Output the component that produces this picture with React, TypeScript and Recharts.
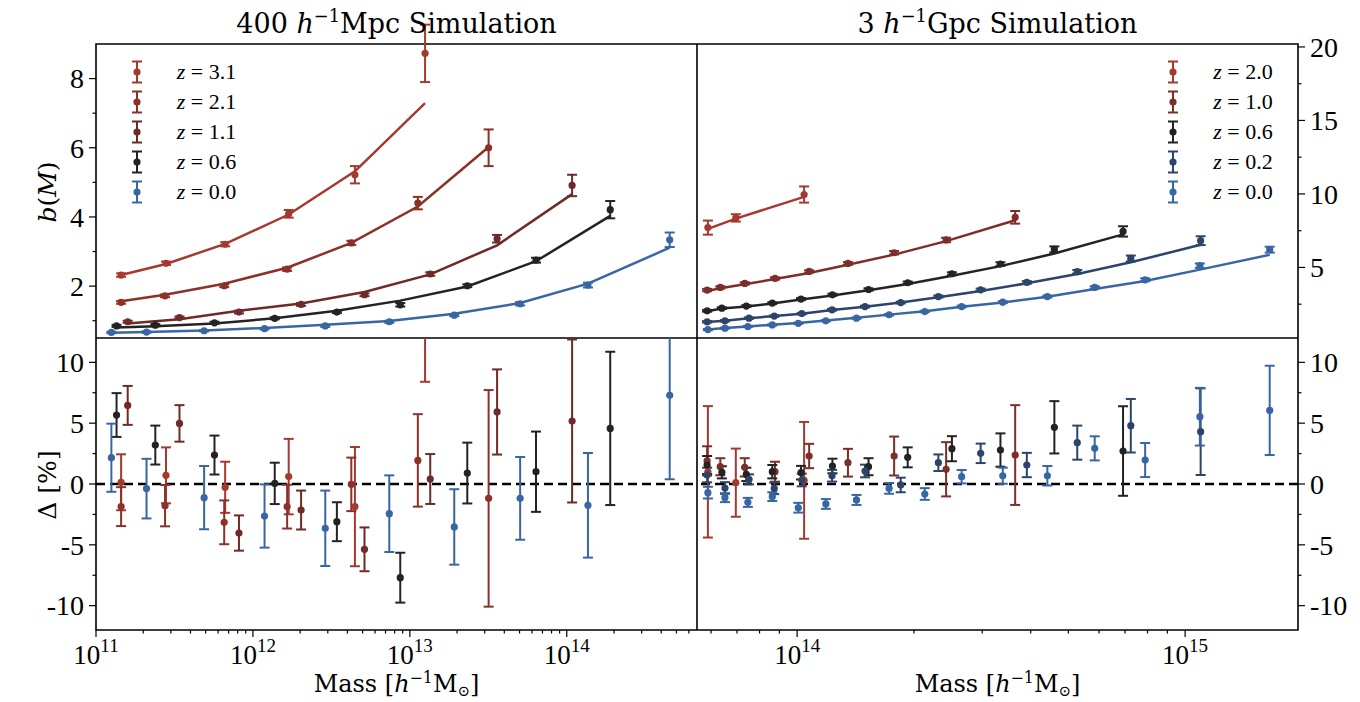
import React from 'react';
import {
  ComposedChart,
  XAxis,
  YAxis,
  Scatter,
  Line,
  ErrorBar,
  ReferenceLine,
  ReferenceArea,
  Legend,
} from 'recharts';

const FONT = '"Liberation Serif", "DejaVu Serif", serif';
const TITLE_FONT = '"DejaVu Serif", "Liberation Serif", serif';

// ---------------- colours ----------------
const C_RED = '#a5392f';
const C_RED2 = '#8c3028';
const C_BROWN = '#6d2a26';
const C_BLACK = '#232323';
const C_BLUE = '#3866a3';
const C_DRED = '#7d2e28';
const C_NAVY = '#2c4468';

// ---------------- 400 h^-1 Mpc simulation ----------------
const z31LogM = [11.160, 11.446, 11.823, 12.228, 12.650, 13.097];
const z31Bias = [2.32, 2.66, 3.21, 4.09, 5.22, 8.73];
const z31BiasErr = [0.05, 0.05, 0.06, 0.11, 0.25, 0.83];
const z31Model = [2.32, 2.64, 3.22, 4.07, 5.32, 7.29];
const z31Delta = [0.14, 0.71, -0.27, 0.61, -1.86, 19.8];
const z31DeltaErr = [2.3, 2.3, 2.1, 3.1, 4.9, 11.4];

const z21LogM = [11.160, 11.440, 11.817, 12.218, 12.627, 13.051, 13.502];
const z21Bias = [1.53, 1.72, 2.01, 2.49, 3.25, 4.40, 6.00];
const z21BiasErr = [0.04, 0.04, 0.04, 0.05, 0.06, 0.18, 0.53];
const z21Model = [1.56, 1.75, 2.07, 2.53, 3.25, 4.30, 6.02];
const z21Delta = [-1.86, -1.78, -3.15, -1.86, -0.03, 1.94, -1.18];
const z21DeltaErr = [1.6, 1.7, 1.8, 1.8, 2.2, 3.8, 8.9];

const z11LogM = [11.202, 11.532, 11.911, 12.307, 12.711, 13.130, 13.556, 14.034];
const z11Bias = [0.97, 1.09, 1.25, 1.47, 1.75, 2.35, 3.37, 4.91];
const z11BiasErr = [0.03, 0.03, 0.04, 0.04, 0.04, 0.05, 0.11, 0.31];
const z11Model = [0.92, 1.04, 1.29, 1.50, 1.83, 2.34, 3.18, 4.66];
const z11Delta = [6.46, 4.98, -4.03, -2.14, -5.37, 0.41, 5.92, 5.18];
const z11DeltaErr = [1.6, 1.5, 1.45, 1.6, 1.8, 2.05, 3.5, 6.7];

const z06LogM = [11.131, 11.378, 11.755, 12.139, 12.535, 12.939, 13.366, 13.804, 14.277];
const z06Bias = [0.85, 0.87, 0.94, 1.07, 1.25, 1.46, 2.01, 2.75, 4.21];
const z06BiasErr = [0.03, 0.03, 0.03, 0.03, 0.03, 0.05, 0.04, 0.07, 0.25];
const z06Model = [0.80, 0.84, 0.92, 1.07, 1.29, 1.58, 1.99, 2.72, 4.03];
const z06Delta = [5.67, 3.20, 2.38, 0.05, -3.10, -7.70, 0.90, 1.01, 4.57];
const z06DeltaErr = [1.8, 1.6, 1.6, 1.7, 1.6, 2.05, 2.5, 3.3, 6.3];

const z00LogM = [11.098, 11.322, 11.689, 12.074, 12.461, 12.869, 13.283, 13.703, 14.135, 14.656];
const z00Bias = [0.66, 0.67, 0.71, 0.77, 0.85, 0.97, 1.16, 1.49, 2.03, 3.34];
const z00BiasErr = [0.02, 0.02, 0.02, 0.02, 0.03, 0.03, 0.03, 0.05, 0.07, 0.21];
const z00Model = [0.65, 0.67, 0.72, 0.79, 0.88, 0.99, 1.20, 1.51, 2.07, 3.11];
const z00Delta = [2.16, -0.38, -1.12, -2.63, -3.64, -2.44, -3.53, -1.18, -1.75, 7.29];
const z00DeltaErr = [2.8, 2.45, 2.6, 2.6, 3.1, 3.15, 3.1, 3.4, 4.3, 6.9];

// ---------------- 3 h^-1 Gpc simulation ----------------
const g20LogM = [13.770, 13.842, 14.018];
const g20Bias = [7.71, 8.37, 9.96];
const g20BiasErr = [0.48, 0.25, 0.55];
const g20Model = [7.62, 8.32, 9.80];
const g20Delta = [1.0, 0.11, 0.3];
const g20DeltaErr = [5.4, 2.8, 4.8];

const g10LogM = [13.768, 13.802, 13.865, 13.943, 14.031, 14.131, 14.250, 14.384, 14.562];
const g10Bias = [3.46, 3.64, 3.91, 4.25, 4.73, 5.27, 6.00, 6.87, 8.41];
const g10BiasErr = [0.08, 0.08, 0.08, 0.08, 0.08, 0.09, 0.12, 0.15, 0.43];
const g10Model = [3.40, 3.59, 3.86, 4.21, 4.62, 5.18, 5.87, 6.79, 8.21];
const g10Delta = [1.9, 1.42, 1.37, 1.01, 2.30, 1.75, 2.30, 1.21, 2.38];
const g10DeltaErr = [1.2, 0.7, 0.75, 0.82, 1.0, 1.14, 1.6, 2.23, 4.1];

const g06LogM = [13.768, 13.806, 13.869, 13.936, 14.010, 14.091, 14.184, 14.285, 14.399, 14.524, 14.663, 14.840];
const g06Bias = [2.05, 2.23, 2.37, 2.57, 2.85, 3.14, 3.50, 3.96, 4.57, 5.23, 6.23, 7.45];
const g06BiasErr = [0.06, 0.06, 0.06, 0.06, 0.07, 0.07, 0.08, 0.08, 0.10, 0.12, 0.20, 0.35];
const g06Model = [2.02, 2.21, 2.35, 2.54, 2.82, 3.09, 3.45, 3.87, 4.44, 5.09, 5.95, 7.25];
const g06Delta = [1.56, 0.96, 0.79, 1.01, 0.93, 1.48, 1.42, 2.19, 2.90, 2.79, 4.66, 2.71];
const g06DeltaErr = [0.74, 0.5, 0.55, 0.55, 0.56, 0.6, 0.7, 0.82, 1.03, 1.37, 2.15, 3.68];

const g02LogM = [13.768, 13.814, 13.876, 13.941, 14.012, 14.090, 14.175, 14.267, 14.364, 14.473, 14.592, 14.722, 14.860, 15.040];
const g02Bias = [1.30, 1.37, 1.55, 1.69, 1.86, 2.12, 2.34, 2.61, 3.02, 3.48, 3.98, 4.71, 5.61, 6.82];
const g02BiasErr = [0.05, 0.05, 0.05, 0.05, 0.05, 0.06, 0.06, 0.06, 0.07, 0.08, 0.09, 0.12, 0.2, 0.3];
const g02Model = [1.29, 1.37, 1.54, 1.70, 1.85, 2.11, 2.32, 2.61, 2.97, 3.39, 3.92, 4.56, 5.35, 6.54];
const g02Delta = [0.74, -0.33, 0.38, -0.36, 0.33, 0.68, 1.07, -0.08, 1.75, 2.52, 1.56, 3.40, 4.79, 4.30];
const g02DeltaErr = [0.6, 0.48, 0.41, 0.47, 0.52, 0.48, 0.52, 0.6, 0.68, 0.8, 1.0, 1.4, 2.2, 3.56];

const g00LogM = [13.770, 13.814, 13.873, 13.936, 14.003, 14.074, 14.153, 14.237, 14.329, 14.424, 14.530, 14.645, 14.767, 14.897, 15.038, 15.218];
const g00Bias = [0.77, 0.87, 0.98, 1.09, 1.20, 1.37, 1.55, 1.78, 2.00, 2.34, 2.64, 3.02, 3.64, 4.16, 5.12, 6.21];
const g00BiasErr = [0.04, 0.04, 0.04, 0.04, 0.04, 0.04, 0.04, 0.05, 0.05, 0.06, 0.06, 0.07, 0.08, 0.1, 0.15, 0.2];
const g00Model = [0.78, 0.88, 0.99, 1.10, 1.22, 1.39, 1.57, 1.79, 2.02, 2.33, 2.62, 3.00, 3.54, 4.08, 4.85, 5.86];
const g00Delta = [-0.71, -1.12, -1.51, -1.04, -1.95, -1.64, -1.31, -0.36, -0.82, 0.60, 0.68, 0.68, 2.93, 1.97, 5.53, 6.05];
const g00DeltaErr = [0.48, 0.37, 0.37, 0.36, 0.4, 0.4, 0.41, 0.44, 0.48, 0.55, 0.66, 0.8, 0.99, 1.4, 2.37, 3.67];

// ---------------- axes: ticks ----------------
const smallXDomain: [number, number] = [1e11, 6.76e14];
const smallXMajor = [1e11, 1e12, 1e13, 1e14];
const smallXMinor = [
  2e11, 3e11, 4e11, 5e11, 6e11, 7e11, 8e11, 9e11,
  2e12, 3e12, 4e12, 5e12, 6e12, 7e12, 8e12, 9e12,
  2e13, 3e13, 4e13, 5e13, 6e13, 7e13, 8e13, 9e13,
  2e14, 3e14, 4e14, 5e14, 6e14,
];
const bigXDomain: [number, number] = [5.52e13, 1.954e15];
const bigXMajor = [1e14, 1e15];
const bigXMinor = [6e13, 7e13, 8e13, 9e13, 2e14, 3e14, 4e14, 5e14, 6e14, 7e14, 8e14, 9e14];

const smallBiasDomain: [number, number] = [0.5, 9.0];
const smallBiasTicks = [1, 2, 3, 4, 5, 6, 7, 8];
const smallBiasMajor = [2, 4, 6, 8];
const bigBiasDomain: [number, number] = [0.2, 20.2];
const bigBiasTicks = [2.5, 5, 7.5, 10, 12.5, 15, 17.5, 20];
const bigBiasMajor = [5, 10, 15, 20];
const deltaDomain: [number, number] = [-12, 12];
const deltaTicks = [-10, -7.5, -5, -2.5, 0, 2.5, 5, 7.5, 10];
const deltaMajor = [-10, -5, 0, 5, 10];

// ---------------- series tables ----------------
type Series = {
  z: string;
  color: string;
  logM: number[];
  bias: number[];
  biasErr: number[];
  model: number[];
  delta: number[];
  deltaErr: number[];
};

const smallSeries: Series[] = [
  { z: '3.1', color: C_RED, logM: z31LogM, bias: z31Bias, biasErr: z31BiasErr, model: z31Model, delta: z31Delta, deltaErr: z31DeltaErr },
  { z: '2.1', color: C_RED2, logM: z21LogM, bias: z21Bias, biasErr: z21BiasErr, model: z21Model, delta: z21Delta, deltaErr: z21DeltaErr },
  { z: '1.1', color: C_BROWN, logM: z11LogM, bias: z11Bias, biasErr: z11BiasErr, model: z11Model, delta: z11Delta, deltaErr: z11DeltaErr },
  { z: '0.6', color: C_BLACK, logM: z06LogM, bias: z06Bias, biasErr: z06BiasErr, model: z06Model, delta: z06Delta, deltaErr: z06DeltaErr },
  { z: '0.0', color: C_BLUE, logM: z00LogM, bias: z00Bias, biasErr: z00BiasErr, model: z00Model, delta: z00Delta, deltaErr: z00DeltaErr },
];

const bigSeries: Series[] = [
  { z: '2.0', color: C_RED, logM: g20LogM, bias: g20Bias, biasErr: g20BiasErr, model: g20Model, delta: g20Delta, deltaErr: g20DeltaErr },
  { z: '1.0', color: C_DRED, logM: g10LogM, bias: g10Bias, biasErr: g10BiasErr, model: g10Model, delta: g10Delta, deltaErr: g10DeltaErr },
  { z: '0.6', color: C_BLACK, logM: g06LogM, bias: g06Bias, biasErr: g06BiasErr, model: g06Model, delta: g06Delta, deltaErr: g06DeltaErr },
  { z: '0.2', color: C_NAVY, logM: g02LogM, bias: g02Bias, biasErr: g02BiasErr, model: g02Model, delta: g02Delta, deltaErr: g02DeltaErr },
  { z: '0.0', color: C_BLUE, logM: g00LogM, bias: g00Bias, biasErr: g00BiasErr, model: g00Model, delta: g00Delta, deltaErr: g00DeltaErr },
];

const rowsOf = (logM: number[], vals: number[], errs?: number[]) =>
  logM.map((lm, i) => ({ m: Math.pow(10, lm), v: vals[i], e: errs ? errs[i] : 0 }));

// ---------------- tick renderers ----------------
const renderXTick = (majors: number[]) => (props: any) => {
  const { x, y, payload } = props;
  const v = payload.value as number;
  const major = majors.some((mj) => Math.abs(mj - v) / mj < 1e-9);
  const exp = Math.round(Math.log10(v));
  return (
    <g>
      <line x1={x} x2={x} y1={y} y2={y + (major ? 7 : 3.5)} stroke="#000" strokeWidth={1.2} />
      {major && (
        <text x={x} y={y + 34} textAnchor="middle" fontFamily={FONT} fontSize={27} fill="#000">
          10
          <tspan dy={-12} fontSize={19}>
            {exp}
          </tspan>
        </text>
      )}
    </g>
  );
};

const renderYTick = (side: 'left' | 'right', majors: number[]) => (props: any) => {
  const { x, y, payload } = props;
  const v = payload.value as number;
  const major = majors.includes(v);
  const len = major ? 7 : 3.5;
  const dir = side === 'left' ? -1 : 1;
  return (
    <g>
      <line x1={x} x2={x + dir * len} y1={y} y2={y} stroke="#000" strokeWidth={1.2} />
      {major && (
        <text
          x={x + dir * 12}
          y={y}
          dy="0.35em"
          textAnchor={side === 'left' ? 'end' : 'start'}
          fontFamily={FONT}
          fontSize={28}
          fill="#000"
        >
          {String(v)}
        </text>
      )}
    </g>
  );
};

// ---------------- legend ----------------
const LegendBox = ({ items }: { items: Series[] }) => (
  <div style={{ fontFamily: FONT }}>
    {items.map((it) => (
      <div key={it.z} style={{ display: 'flex', alignItems: 'center', height: 30 }}>
        <svg width={22} height={30} style={{ display: 'block' }}>
          <line x1={11} x2={11} y1={4.5} y2={25.5} stroke={it.color} strokeWidth={2} />
          <line x1={6} x2={16} y1={4.5} y2={4.5} stroke={it.color} strokeWidth={2} />
          <line x1={6} x2={16} y1={25.5} y2={25.5} stroke={it.color} strokeWidth={2} />
          <circle cx={11} cy={15} r={3.6} fill={it.color} />
        </svg>
        <span style={{ marginLeft: 29, fontSize: 22, whiteSpace: 'nowrap', lineHeight: '30px' }}>
          <i>z</i> = {it.z}
        </span>
      </div>
    ))}
  </div>
);

// ---------------- panel ----------------
type PanelProps = {
  width: number;
  height: number;
  marginTop: number;
  xDomain: [number, number];
  xMajor: number[];
  xMinor: number[];
  showX: boolean;
  yDomain: [number, number];
  yTicks: number[];
  yMajor: number[];
  ySide: 'left' | 'right';
  yWidth: number;
  series: Series[];
  kind: 'bias' | 'delta';
  legendPos?: { left: number; top: number };
};

const Panel = (p: PanelProps) => {
  const xTicks = [...p.xMajor, ...p.xMinor].sort((a, b) => a - b);
  return (
    <ComposedChart
      width={p.width}
      height={p.height}
      margin={{ top: p.marginTop, right: 0, bottom: 0, left: 0 }}
    >
      <XAxis
        xAxisId="x"
        type="number"
        dataKey="m"
        scale="log"
        domain={p.xDomain}
        allowDataOverflow
        hide={!p.showX}
        height={p.showX ? 72 : 0}
        ticks={xTicks}
        interval={0}
        tickSize={0}
        tickMargin={0}
        tickLine={false}
        axisLine={false}
        tick={renderXTick(p.xMajor)}
      />
      <YAxis
        yAxisId="y"
        type="number"
        dataKey="v"
        domain={p.yDomain}
        allowDataOverflow
        orientation={p.ySide}
        width={p.yWidth}
        ticks={p.yTicks}
        interval={0}
        tickSize={0}
        tickMargin={0}
        tickLine={false}
        axisLine={false}
        tick={renderYTick(p.ySide, p.yMajor)}
      />
      <ReferenceArea
        xAxisId="x"
        yAxisId="y"
        x1={p.xDomain[0]}
        x2={p.xDomain[1]}
        y1={p.yDomain[0]}
        y2={p.yDomain[1]}
        fill="none"
        fillOpacity={0}
        stroke="#000"
        strokeWidth={1.6}
      />
      {p.kind === 'delta' && (
        <ReferenceLine
          xAxisId="x"
          yAxisId="y"
          y={0}
          stroke="#000"
          strokeWidth={2.4}
          strokeDasharray="9 5"
        />
      )}
      {p.kind === 'bias' &&
        p.series.map((s) => (
          <Line
            key={'line' + s.z}
            xAxisId="x"
            yAxisId="y"
            data={rowsOf(s.logM, s.model)}
            dataKey="v"
            type="linear"
            stroke={s.color}
            strokeWidth={2.5}
            dot={false}
            activeDot={false}
            isAnimationActive={false}
          />
        ))}
      {p.series.map((s) => (
        <Scatter
          key={'pts' + s.z}
          xAxisId="x"
          yAxisId="y"
          data={p.kind === 'bias' ? rowsOf(s.logM, s.bias, s.biasErr) : rowsOf(s.logM, s.delta, s.deltaErr)}
          fill={s.color}
          isAnimationActive={false}
          shape={(sp: any) => <circle cx={sp.cx} cy={sp.cy} r={3.6} fill={s.color} />}
        >
          <ErrorBar dataKey="e" direction="y" width={5} stroke={s.color} strokeWidth={2} />
        </Scatter>
      ))}
      {p.legendPos && (
        <Legend
          layout="vertical"
          align="center"
          verticalAlign="middle"
          wrapperStyle={{ left: p.legendPos.left, top: p.legendPos.top, width: 'auto', height: 'auto' }}
          content={() => <LegendBox items={p.series} />}
        />
      )}
    </ComposedChart>
  );
};

const sup = { fontSize: '0.66em', position: 'relative' as const, top: '-0.6em' };
const sub = { fontSize: '0.62em', position: 'relative' as const, top: '0.3em' };

export default function App() {
  return (
    <div
      style={{
        position: 'absolute',
        left: 0,
        top: 0,
        width: 1360,
        height: 702,
        background: '#fff',
        fontFamily: FONT,
        color: '#000',
        overflow: 'hidden',
      }}
    >
      <div style={{ position: 'absolute', left: 0, top: 0 }}>
        <Panel
          width={697}
          height={338}
          marginTop={44}
          xDomain={smallXDomain}
          xMajor={smallXMajor}
          xMinor={smallXMinor}
          showX={false}
          yDomain={smallBiasDomain}
          yTicks={smallBiasTicks}
          yMajor={smallBiasMajor}
          ySide="left"
          yWidth={96}
          series={smallSeries}
          kind="bias"
          legendPos={{ left: 125.7, top: 56.7 }}
        />
      </div>
      <div style={{ position: 'absolute', left: 697, top: 0 }}>
        <Panel
          width={663}
          height={338}
          marginTop={44}
          xDomain={bigXDomain}
          xMajor={bigXMajor}
          xMinor={bigXMinor}
          showX={false}
          yDomain={bigBiasDomain}
          yTicks={bigBiasTicks}
          yMajor={bigBiasMajor}
          ySide="right"
          yWidth={62}
          series={bigSeries}
          kind="bias"
          legendPos={{ left: 465.3, top: 56.7 }}
        />
      </div>
      <div style={{ position: 'absolute', left: 0, top: 338 }}>
        <Panel
          width={697}
          height={364}
          marginTop={0}
          xDomain={smallXDomain}
          xMajor={smallXMajor}
          xMinor={smallXMinor}
          showX={true}
          yDomain={deltaDomain}
          yTicks={deltaTicks}
          yMajor={deltaMajor}
          ySide="left"
          yWidth={96}
          series={smallSeries}
          kind="delta"
        />
      </div>
      <div style={{ position: 'absolute', left: 697, top: 338 }}>
        <Panel
          width={663}
          height={364}
          marginTop={0}
          xDomain={bigXDomain}
          xMajor={bigXMajor}
          xMinor={bigXMinor}
          showX={true}
          yDomain={deltaDomain}
          yTicks={deltaTicks}
          yMajor={deltaMajor}
          ySide="right"
          yWidth={62}
          series={bigSeries}
          kind="delta"
        />
      </div>

      {/* titles */}
      <div style={{ position: 'absolute', left: 396.5, top: 10, transform: 'translateX(-50%)', fontFamily: TITLE_FONT, fontSize: 27, lineHeight: 1, whiteSpace: 'nowrap' }}>
        400 <i>h</i>
        <span style={sup}>−1</span>Mpc Simulation
      </div>
      <div style={{ position: 'absolute', left: 997.5, top: 10, transform: 'translateX(-50%)', fontFamily: TITLE_FONT, fontSize: 27, lineHeight: 1, whiteSpace: 'nowrap' }}>
        3 <i>h</i>
        <span style={sup}>−1</span>Gpc Simulation
      </div>

      {/* axis labels */}
      <div style={{ position: 'absolute', left: 396.5, top: 672, transform: 'translateX(-50%)', fontFamily: TITLE_FONT, fontSize: 24, lineHeight: 1, whiteSpace: 'nowrap' }}>
        Mass [<i>h</i>
        <span style={sup}>−1</span>M<span style={sub}>⊙</span>]
      </div>
      <div style={{ position: 'absolute', left: 997.5, top: 672, transform: 'translateX(-50%)', fontFamily: TITLE_FONT, fontSize: 24, lineHeight: 1, whiteSpace: 'nowrap' }}>
        Mass [<i>h</i>
        <span style={sup}>−1</span>M<span style={sub}>⊙</span>]
      </div>
      <div style={{ position: 'absolute', left: 47, top: 192, transform: 'translate(-50%, -50%) rotate(-90deg)', fontFamily: TITLE_FONT, fontSize: 25, lineHeight: 1, whiteSpace: 'nowrap' }}>
        <i>b</i>(<i>M</i>)
      </div>
      <div style={{ position: 'absolute', left: 47, top: 485, transform: 'translate(-50%, -50%) rotate(-90deg)', fontFamily: TITLE_FONT, fontSize: 25, lineHeight: 1, whiteSpace: 'nowrap' }}>
        Δ [%]
      </div>
    </div>
  );
}
